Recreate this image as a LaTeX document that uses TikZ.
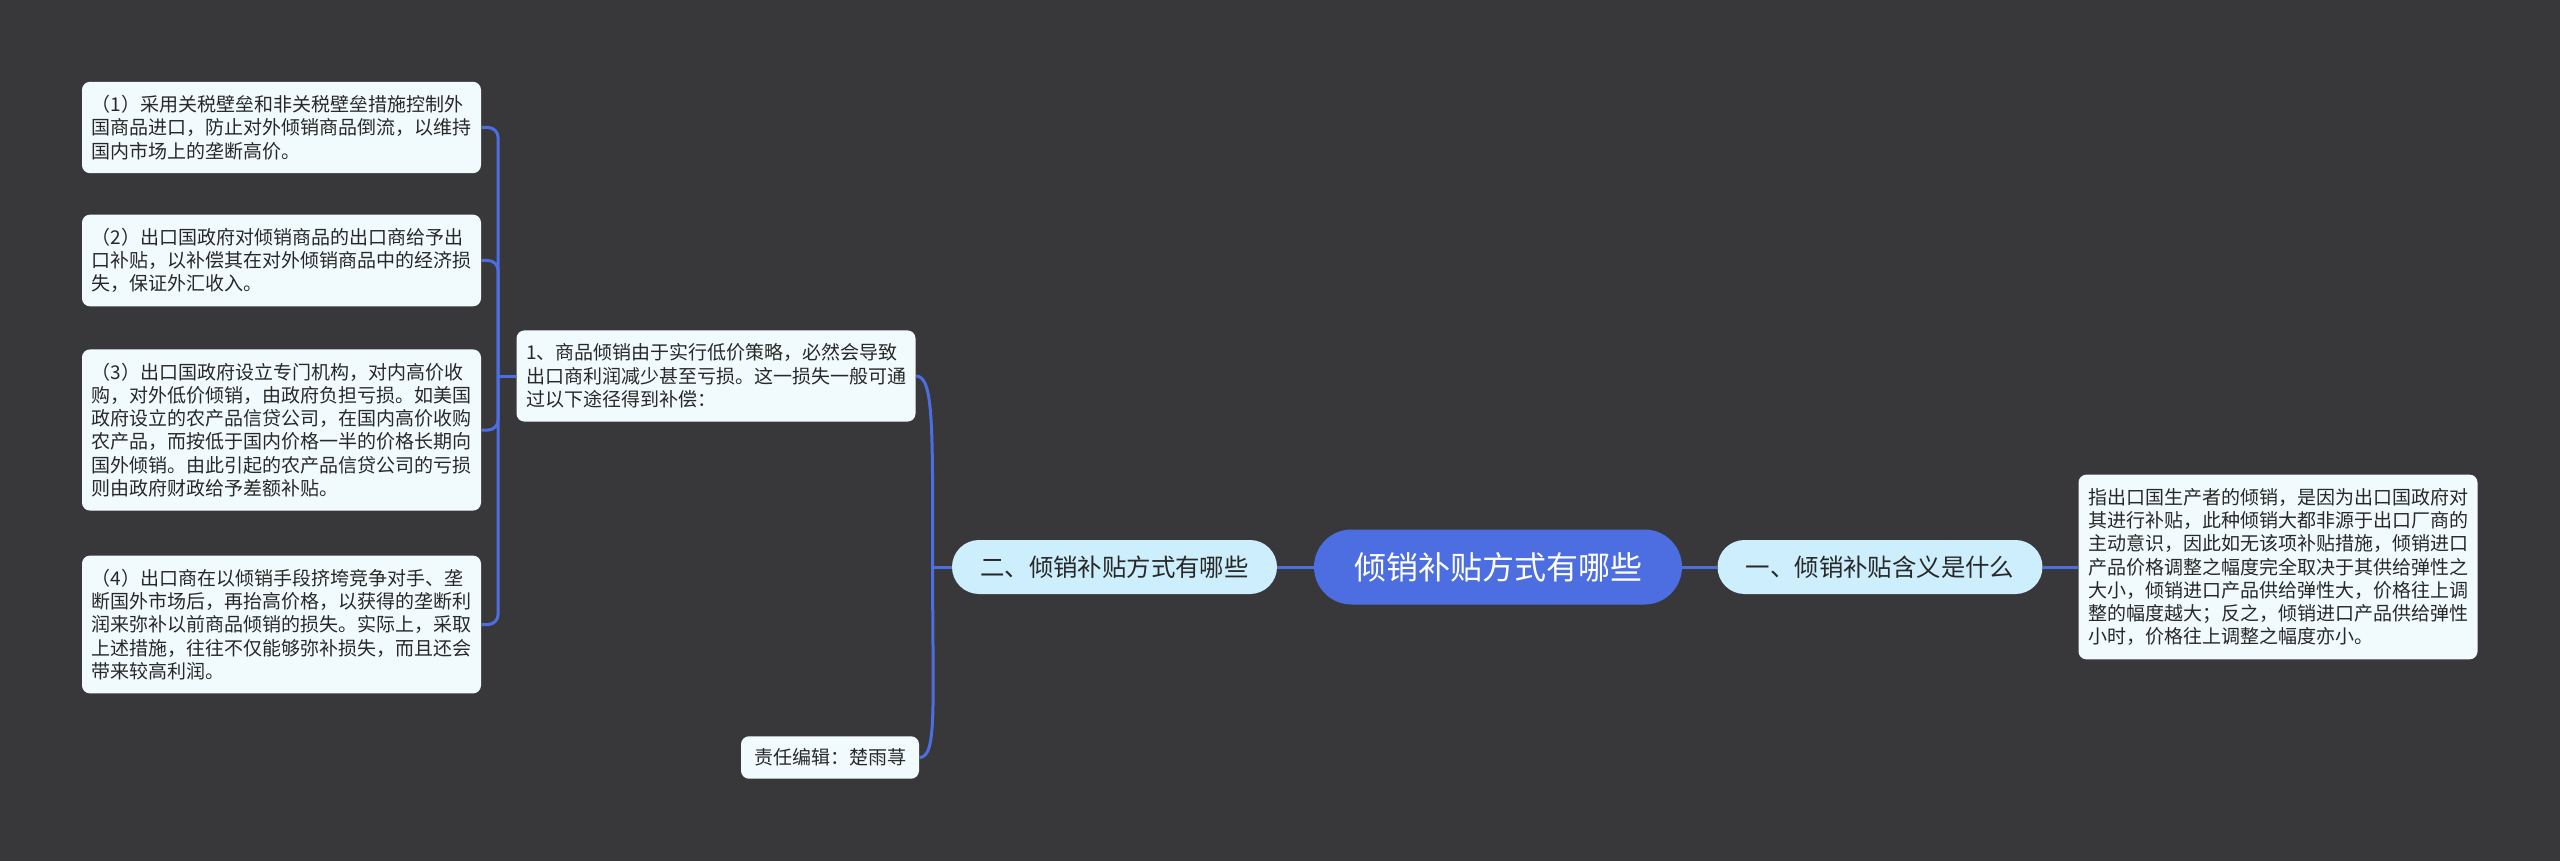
\documentclass[tikz,border=0pt]{standalone}
\usepackage{fontspec}
\setmainfont{Noto Sans CJK SC}
\definecolor{bgdark}{RGB}{56,56,59}
\definecolor{rootblue}{RGB}{76,110,224}
\definecolor{branchfill}{RGB}{205,238,252}
\definecolor{cardfill}{RGB}{241,251,253}
\definecolor{inktext}{RGB}{40,40,40}

\begin{document}
\begin{tikzpicture}[x=0.5pt,y=-0.5pt,
  card/.style={fill=cardfill,rounded corners=4pt,text=inktext,align=left,text width=190pt,inner xsep=4.75pt,inner ysep=6.7pt,font=\fontsize{9.5}{11.65}\selectfont},
  tag/.style={fill=cardfill,rounded corners=4pt,text=inktext,inner xsep=6.5pt,inner ysep=6.2pt,font=\fontsize{9.5}{11.65}\selectfont},
  branch/.style={fill=branchfill,rounded corners=13.5pt,minimum width=162.5pt,minimum height=27pt,text=inktext,font=\fontsize{12.2}{14}\selectfont},
  topic/.style={fill=rootblue,rounded corners=18.75pt,minimum width=184pt,minimum height=37.5pt,text=white,font=\fontsize{16}{19}\selectfont},
  conn/.style={draw=rootblue,line width=1.5pt,rounded corners=5pt}]

\fill[bgdark] (0,0) rectangle (2560,861);
\useasboundingbox (0,0) rectangle (2560,861);

\node[topic] (root) at (1498,567) {倾销补贴方式有哪些};
\node[branch] (n2) at (1114.5,567) {二、倾销补贴方式有哪些};
\node[branch] (n1) at (1880,567) {一、倾销补贴含义是什么};

\node[card] (def) at (2278,567) {指出口国生产者的倾销，是因为出口国政府对\\其进行补贴，此种倾销大都非源于出口厂商的\\主动意识，因此如无该项补贴措施，倾销进口\\产品价格调整之幅度完全取决于其供给弹性之\\大小，倾销进口产品供给弹性大，价格往上调\\整的幅度越大；反之，倾销进口产品供给弹性\\小时，价格往上调整之幅度亦小。};

\node[card] (p1) at (716,376) {1、商品倾销由于实行低价策略，必然会导致\\出口商利润减少甚至亏损。这一损失一般可通\\过以下途径得到补偿：};
\node[tag] (ed) at (830,757.5) {责任编辑：楚雨荨};

\node[card] (c1) at (281.5,127.5) {（1）采用关税壁垒和非关税壁垒措施控制外\\国商品进口，防止对外倾销商品倒流，以维持\\国内市场上的垄断高价。};
\node[card] (c2) at (281.5,260.5) {（2）出口国政府对倾销商品的出口商给予出\\口补贴，以补偿其在对外倾销商品中的经济损\\失，保证外汇收入。};
\node[card] (c3) at (281.5,430) {（3）出口国政府设立专门机构，对内高价收\\购，对外低价倾销，由政府负担亏损。如美国\\政府设立的农产品信贷公司，在国内高价收购\\农产品，而按低于国内价格一半的价格长期向\\国外倾销。由此引起的农产品信贷公司的亏损\\则由政府财政给予差额补贴。};
\node[card] (c4) at (281.5,624.5) {（4）出口商在以倾销手段挤垮竞争对手、垄\\断国外市场后，再抬高价格，以获得的垄断利\\润来弥补以前商品倾销的损失。实际上，采取\\上述措施，往往不仅能够弥补损失，而且还会\\带来较高利润。};

\draw[conn] (root.west) -- (n2.east);
\draw[conn] (root.east) -- (n1.west);
\draw[conn] (n1.east) -- (def.west);

\draw[conn] (n2.west) -- ++(-19,0) coordinate (j2);
\draw[conn] (j2) .. controls +(0,-140) and +(18,0) .. (p1.east);
\draw[conn] (j2) .. controls +(0,140) and +(18,0) .. (ed.east);

\draw[conn] (p1.west) -- ++(-18,0) coordinate (j1);
\draw[conn] (j1) |- (c1.east);
\draw[conn] (j1) |- (c2.east);
\draw[conn] (j1) |- (c3.east);
\draw[conn] (j1) |- (c4.east);

\end{tikzpicture}
\end{document}
